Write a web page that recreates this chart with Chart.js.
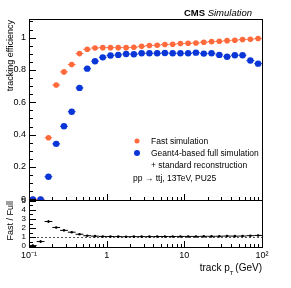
<!DOCTYPE html>
<html>
<head>
<meta charset="utf-8">
<script src="https://cdn.jsdelivr.net/npm/chart.js@4"></script>
<style>
  html, body { margin: 0; padding: 0; background: #fff; }
  #wrap { width: 291px; height: 288px; position: relative; }
</style>
</head>
<body>
<div id="wrap"><canvas id="grafico" width="291" height="288"></canvas></div>
<script>
// centros dos bins em pT (GeV)
const binsPt = [0.112, 0.141, 0.178, 0.224, 0.282, 0.355, 0.447, 0.562, 0.708, 0.891,
                1.12, 1.41, 1.78, 2.24, 2.82, 3.55, 4.47, 5.62, 7.08, 8.91,
                11.2, 14.1, 17.8, 22.4, 28.2, 35.5, 44.7, 56.2, 70.8, 89.1];

// eficiência - simulação rápida
const efFast = [0, 0, 0.381, 0.707, 0.788, 0.833, 0.901, 0.928, 0.936, 0.938,
                0.938, 0.938, 0.938, 0.940, 0.946, 0.951, 0.953, 0.957, 0.959, 0.963,
                0.965, 0.967, 0.971, 0.975, 0.977, 0.981, 0.984, 0.988, 0.990, 0.994];

// eficiência - simulação completa (Geant4)
const efFull = [0, 0, 0.140, 0.343, 0.452, 0.542, 0.689, 0.808, 0.854, 0.878,
                0.889, 0.893, 0.899, 0.897, 0.903, 0.903, 0.903, 0.905, 0.903, 0.903,
                0.903, 0.907, 0.901, 0.903, 0.893, 0.882, 0.891, 0.891, 0.858, 0.839];

// razão Fast / Full
const razao = [0.05, 0.5, 2.72, 2.06, 1.74, 1.54, 1.31, 1.15, 1.10, 1.07,
               1.06, 1.05, 1.04, 1.05, 1.05, 1.05, 1.06, 1.06, 1.06, 1.07,
               1.07, 1.07, 1.08, 1.08, 1.09, 1.11, 1.10, 1.11, 1.15, 1.18];
// erro vertical da razão (só visível nos primeiros bins)
const erroRazao = [0.1, 0.15, 0.15, 0.08, 0.06, 0.05, 0.04, 0.03, 0.02, 0.02,
                   0.02, 0.02, 0.02, 0.02, 0.02, 0.02, 0.02, 0.02, 0.02, 0.02,
                   0.02, 0.02, 0.02, 0.02, 0.02, 0.03, 0.03, 0.03, 0.04, 0.05];

const xTicks = [0.1, 1, 10, 100];
const xTickLabels = ['10\u207B\u00B9', '1', '10', '10\u00B2'];
const yTicksEf = [0, 0.2, 0.4, 0.6, 0.8, 1];
const yTicksRazao = [0, 1, 2, 3, 4, 5];

const corFast = '#ff6a3d';
const corFull = '#0a36d8';
const fonte = '"Liberation Sans", Arial, sans-serif';

const pontos = (ys) => binsPt.map((x, i) => ({ x: x, y: ys[i] }));

// Plugin: molduras, ticks internos, barras de erro e textos (estilo ROOT)
const estiloRoot = {
    id: 'estiloRoot',
    beforeDatasetsDraw(chart) {
        const ctx = chart.ctx;
        const sx = chart.scales.x;
        const yA = chart.scales.y;
        const yB = chart.scales.y2;
        const meio = 1.122;
        ctx.save();
        // linha pontilhada em 1 no painel da razão
        ctx.strokeStyle = '#555';
        ctx.lineWidth = 1;
        ctx.setLineDash([2, 2]);
        const y1 = Math.round(yB.getPixelForValue(1)) + 0.5;
        ctx.beginPath();
        ctx.moveTo(sx.left, y1);
        ctx.lineTo(sx.right, y1);
        ctx.stroke();
        ctx.setLineDash([]);
        // barras de erro horizontais
        const barras = (ys, eixo, cor, largura) => {
            ctx.strokeStyle = cor;
            ctx.lineWidth = largura;
            binsPt.forEach((x, i) => {
                const py = eixo.getPixelForValue(ys[i]);
                ctx.beginPath();
                ctx.moveTo(sx.getPixelForValue(x / meio), py);
                ctx.lineTo(sx.getPixelForValue(x * meio), py);
                ctx.stroke();
            });
        };
        barras(efFull, yA, corFull, 1);
        barras(efFast, yA, corFast, 1);
        barras(razao, yB, '#000', 1);
        // erros verticais da razão
        ctx.strokeStyle = '#000';
        binsPt.forEach((x, i) => {
            const px = sx.getPixelForValue(x);
            ctx.beginPath();
            ctx.moveTo(px, yB.getPixelForValue(razao[i] - erroRazao[i]));
            ctx.lineTo(px, yB.getPixelForValue(razao[i] + erroRazao[i]));
            ctx.stroke();
        });
        ctx.restore();
    },
    afterDraw(chart) {
        const ctx = chart.ctx;
        const sx = chart.scales.x;
        const yA = chart.scales.y;
        const yB = chart.scales.y2;
        ctx.save();
        ctx.strokeStyle = '#000';
        ctx.lineWidth = 1;
        // molduras
        [yA, yB].forEach(s => {
            ctx.strokeRect(Math.round(sx.left) + 0.5, Math.round(s.top) + 0.5,
                Math.round(sx.right - sx.left), Math.round(s.bottom - s.top));
        });
        // ticks do eixo x (log) nos dois painéis
        const decadas = [0.1, 1, 10];
        [yA, yB].forEach(s => {
            decadas.forEach(d => {
                for (let k = 1; k <= 10; k++) {
                    const v = d * k;
                    if (v > 100) continue;
                    const px = Math.round(sx.getPixelForValue(v)) + 0.5;
                    const len = (k === 1 || k === 10) ? 6 : 3;
                    ctx.beginPath();
                    ctx.moveTo(px, s.bottom);
                    ctx.lineTo(px, s.bottom - len);
                    ctx.stroke();
                }
            });
        });
        // ticks do eixo y (eficiência)
        for (let v = 0; v <= 1.1001; v += 0.05) {
            const py = Math.round(yA.getPixelForValue(v)) + 0.5;
            const major = Math.abs(v / 0.2 - Math.round(v / 0.2)) < 1e-6;
            ctx.beginPath();
            ctx.moveTo(sx.left, py);
            ctx.lineTo(sx.left + (major ? 7 : 4), py);
            ctx.stroke();
        }
        // ticks do eixo y (razão)
        for (let v = 0; v <= 5.001; v += 0.5) {
            const py = Math.round(yB.getPixelForValue(v)) + 0.5;
            const major = Math.abs(v - Math.round(v)) < 1e-6;
            ctx.beginPath();
            ctx.moveTo(sx.left, py);
            ctx.lineTo(sx.left + (major ? 7 : 4), py);
            ctx.stroke();
        }
        // títulos
        ctx.fillStyle = '#000';
        ctx.textBaseline = 'alphabetic';
        ctx.textAlign = 'right';
        ctx.font = 'italic 9.5px ' + fonte;
        ctx.fillText('Simulation', sx.right - 10, 16);
        const wSim = ctx.measureText('Simulation ').width;
        ctx.font = 'bold 9.5px ' + fonte;
        ctx.fillText('CMS', sx.right - 10 - wSim, 16);

        // rótulos dos eixos y
        ctx.font = '9px ' + fonte;
        ctx.save();
        ctx.translate(13, yA.top + 1);
        ctx.rotate(-Math.PI / 2);
        ctx.textAlign = 'right';
        ctx.fillText('tracking efficiency', 0, 0);
        ctx.restore();
        ctx.save();
        ctx.translate(13, yB.top + 1);
        ctx.rotate(-Math.PI / 2);
        ctx.textAlign = 'right';
        ctx.fillText('Fast / Full', 0, 0);
        ctx.restore();

        // rótulo do eixo x: track p_T (GeV)
        ctx.textAlign = 'left';
        ctx.font = '10px ' + fonte;
        const partes = ['track p', '  (GeV)'];
        const w1 = ctx.measureText(partes[0]).width;
        const w2 = ctx.measureText(partes[1]).width;
        const x0 = sx.right - w1 - w2;
        ctx.fillText(partes[0], x0, 271);
        ctx.fillText(partes[1], x0 + w1, 271);
        ctx.font = '6px ' + fonte;
        ctx.fillText('T', x0 + w1, 275);

        // legenda
        ctx.font = '8.5px ' + fonte;
        const lx = 151;
        ctx.fillStyle = corFast;
        ctx.beginPath(); ctx.arc(137, 141, 2.5, 0, Math.PI * 2); ctx.fill();
        ctx.fillStyle = corFull;
        ctx.beginPath(); ctx.arc(137, 153, 3, 0, Math.PI * 2); ctx.fill();
        ctx.fillStyle = '#000';
        ctx.fillText('Fast simulation', lx, 144);
        ctx.fillText('Geant4-based full simulation', lx, 156);
        ctx.fillText('+ standard reconstruction', lx, 168);
        ctx.fillText('pp \u2192 ttj, 13TeV, PU25', 133, 181);
        ctx.restore();
    }
};

new Chart(document.getElementById('grafico').getContext('2d'), {
    type: 'scatter',
    data: {
        datasets: [
            {
                label: 'Geant4-based full simulation',
                data: pontos(efFull),
                yAxisID: 'y',
                backgroundColor: corFull,
                borderColor: corFull,
                pointRadius: 3.2,
                borderWidth: 0
            },
            {
                label: 'Fast simulation',
                data: pontos(efFast),
                yAxisID: 'y',
                backgroundColor: corFast,
                borderColor: corFast,
                pointRadius: 2.8,
                borderWidth: 0
            },
            {
                label: 'Fast / Full',
                data: pontos(razao),
                yAxisID: 'y2',
                backgroundColor: '#000',
                borderColor: '#000',
                pointRadius: 1.3,
                borderWidth: 0
            }
        ]
    },
    options: {
        responsive: false,
        animation: false,
        devicePixelRatio: 1,
        layout: { padding: { top: 19, right: 29, bottom: 0, left: 0 } },
        plugins: {
            legend: { display: false },
            tooltip: { enabled: false }
        },
        scales: {
            x: {
                type: 'logarithmic',
                min: 0.1,
                max: 100,
                grid: { display: false, drawTicks: false },
                border: { display: false },
                afterFit: s => { s.height = 41; },
                afterBuildTicks: s => { s.ticks = xTicks.map(v => ({ value: v })); },
                ticks: {
                    autoSkip: false,
                    maxRotation: 0,
                    padding: 3,
                    color: '#000',
                    font: { family: fonte, size: 9 },
                    callback: (v) => {
                        const i = xTicks.indexOf(v);
                        return i >= 0 ? xTickLabels[i] : '';
                    }
                }
            },
            y2: {
                type: 'linear',
                position: 'left',
                stack: 'paineis',
                stackWeight: 47,
                min: -0.1,
                max: 5.1,
                grid: { display: false, drawTicks: false },
                border: { display: false },
                afterFit: s => { s.width = 29; },
                afterBuildTicks: s => { s.ticks = yTicksRazao.map(v => ({ value: v })); },
                ticks: {
                    autoSkip: false,
                    padding: 3,
                    color: '#000',
                    font: { family: fonte, size: 8 },
                    callback: v => String(v)
                }
            },
            y: {
                type: 'linear',
                position: 'left',
                stack: 'paineis',
                stackWeight: 181,
                min: -0.004,
                max: 1.115,
                grid: { display: false, drawTicks: false },
                border: { display: false },
                afterFit: s => { s.width = 29; },
                afterBuildTicks: s => { s.ticks = yTicksEf.map(v => ({ value: v })); },
                ticks: {
                    autoSkip: false,
                    padding: 3,
                    color: '#000',
                    font: { family: fonte, size: 9 },
                    callback: v => String(Math.round(v * 10) / 10)
                }
            }
        }
    },
    plugins: [estiloRoot]
});
</script>
</body>
</html>
